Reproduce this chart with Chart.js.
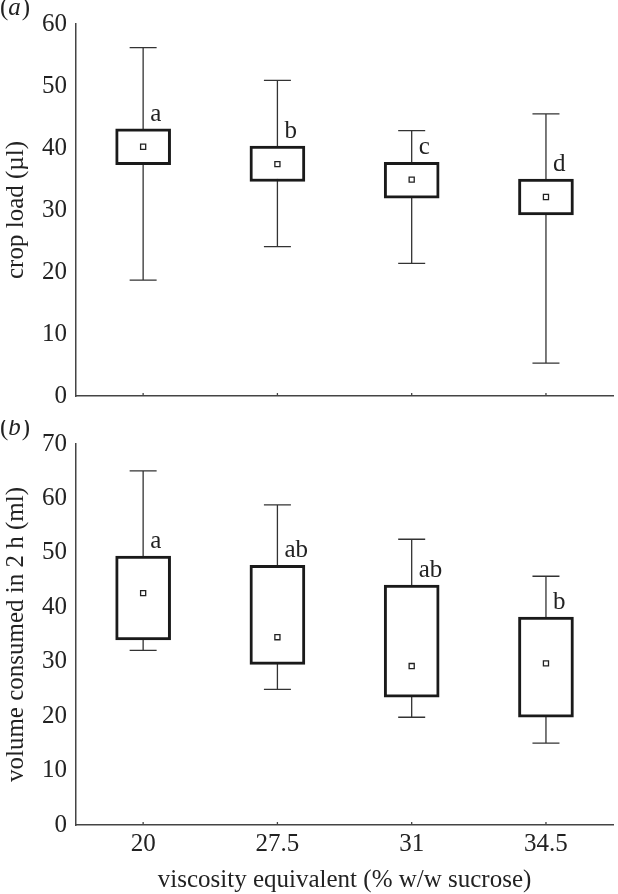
<!DOCTYPE html>
<html>
<head>
<meta charset="utf-8">
<script src="https://cdn.jsdelivr.net/npm/chart.js@4/dist/chart.umd.min.js"></script>
<style>
  html, body { margin: 0; padding: 0; background: #fff; }
  body { width: 618px; height: 894px; position: relative; overflow: hidden; }
  .panel { position: absolute; left: 0; width: 618px; }
  #pa { top: 0; height: 420px; }
  #pb { top: 420px; height: 474px; }
</style>
</head>
<body>
<div class="panel" id="pa"><canvas id="ca"></canvas></div>
<div class="panel" id="pb"><canvas id="cb"></canvas></div>
<script>
// ---- data ----
const categories = ['20', '27.5', '31', '34.5'];

// panel (a): crop load (µl)
const minA = [18.7, 24.1, 21.4, 5.3];
const q1A  = [37.3, 34.6, 31.9, 29.2];
const medA = [40.2, 37.4, 34.9, 32.1];
const q3A  = [43.1, 40.3, 37.7, 35.0];
const maxA = [56.2, 50.9, 42.8, 45.5];
const lettersA = ['a', 'b', 'c', 'd'];
const ticksA = [0, 10, 20, 30, 40, 50, 60];

// panel (b): volume consumed in 2 h (ml)
const minB = [32.1, 24.9, 19.8, 15.05];
const q1B  = [34.0, 29.5, 23.5, 19.8];
const medB = [42.6, 34.5, 29.2, 29.7];
const q3B  = [49.4, 47.7, 44.1, 38.2];
const maxB = [65.05, 58.8, 52.5, 45.7];
const lettersB = ['a', 'ab', 'ab', 'b'];
const ticksB = [0, 10, 20, 30, 40, 50, 60, 70];

const SERIF = '"Liberation Serif", "Times New Roman", serif';
const FS = 25;
Chart.defaults.font.family = SERIF;
Chart.defaults.color = '#222';

function boxPlugin(mins, maxs, q3s, letters, panelLetter) {
  return {
    id: 'box' + panelLetter,
    beforeDatasetsDraw(chart) {
      const ctx = chart.ctx, xs = chart.scales.x, ys = chart.scales.y;
      ctx.save();
      ctx.strokeStyle = '#333';
      ctx.lineWidth = 1.3;
      for (let i = 0; i < mins.length; i++) {
        const x = xs.getPixelForValue(i);
        const yTop = ys.getPixelForValue(maxs[i]);
        const yBot = ys.getPixelForValue(mins[i]);
        ctx.beginPath();
        ctx.moveTo(x, yTop); ctx.lineTo(x, yBot);
        ctx.moveTo(x - 13.5, yTop); ctx.lineTo(x + 13.5, yTop);
        ctx.moveTo(x - 13.5, yBot); ctx.lineTo(x + 13.5, yBot);
        ctx.stroke();
      }
      ctx.restore();
    },
    afterDatasetsDraw(chart) {
      const ctx = chart.ctx, xs = chart.scales.x, ys = chart.scales.y;
      ctx.save();
      ctx.fillStyle = '#222';
      ctx.font = FS + 'px ' + SERIF;
      ctx.textAlign = 'left';
      ctx.textBaseline = 'alphabetic';
      for (let i = 0; i < letters.length; i++) {
        const x = xs.getPixelForValue(i);
        const y = ys.getPixelForValue(q3s[i]);
        ctx.fillText(letters[i], x + 7, y - 8);
      }
      // inward tick marks on the x axis
      ctx.strokeStyle = '#444';
      ctx.lineWidth = 1.3;
      const b = chart.chartArea.bottom;
      for (let i = 0; i < letters.length; i++) {
        const x = xs.getPixelForValue(i);
        ctx.beginPath(); ctx.moveTo(x, b); ctx.lineTo(x, b - 3); ctx.stroke();
      }
      // panel label
      ctx.textBaseline = 'middle';
      let px = 0;
      const py = 8;
      ctx.font = FS + 'px ' + SERIF;
      ctx.fillText('(', px, py); px += ctx.measureText('(').width;
      ctx.font = 'italic ' + FS + 'px ' + SERIF;
      ctx.fillText(panelLetter, px, py); px += ctx.measureText(panelLetter).width;
      ctx.font = FS + 'px ' + SERIF;
      ctx.fillText(')', px + 1, py);
      ctx.restore();
    }
  };
}

function makeChart(id, opts) {
  const boxes = opts.q1.map((v, i) => [v, opts.q3[i]]);
  return new Chart(document.getElementById(id), {
    type: 'bar',
    data: {
      labels: categories,
      datasets: [
        {
          type: 'line',
          data: opts.med,
          showLine: false,
          pointStyle: 'rect',
          pointRadius: 3.6,
          pointHoverRadius: 3.6,
          pointBackgroundColor: '#fff',
          pointBorderColor: '#222',
          pointBorderWidth: 1.3,
          order: 0
        },
        {
          type: 'bar',
          data: boxes,
          backgroundColor: '#fff',
          borderColor: '#1a1a1a',
          borderWidth: 3,
          borderSkipped: false,
          barThickness: 55,
          order: 1
        }
      ]
    },
    options: {
      responsive: true,
      maintainAspectRatio: false,
      animation: false,
      events: [],
      layout: { padding: { top: opts.padTop, left: 0, right: 0, bottom: 0 } },
      plugins: { legend: { display: false }, tooltip: { enabled: false } },
      scales: {
        x: {
          type: 'category',
          offset: true,
          grid: { display: false, drawTicks: false },
          border: { display: true, color: '#444', width: 1.5 },
          ticks: { display: opts.showX, font: { size: FS }, padding: 4, color: '#222' },
          title: {
            display: opts.showX,
            text: 'viscosity equivalent (% w/w sucrose)',
            font: { size: FS, lineHeight: 1.05 },
            padding: { top: 0, bottom: 0 },
            color: '#222'
          },
          afterFit(s) { s.height = opts.xHeight; }
        },
        y: {
          type: 'linear',
          min: 0,
          max: opts.ticks[opts.ticks.length - 1],
          afterBuildTicks(s) { s.ticks = opts.ticks.map(v => ({ value: v })); },
          grid: { display: false, drawTicks: false },
          border: { display: true, color: '#444', width: 1.5 },
          ticks: { font: { size: FS }, padding: 9, color: '#222' },
          title: {
            display: true,
            text: opts.yTitle,
            font: { size: FS },
            padding: { top: 1, bottom: 0 },
            color: '#222'
          },
          afterFit(s) { s.width = 76; }
        }
      }
    },
    plugins: [boxPlugin(opts.min, opts.max, opts.q3, opts.letters, opts.panel)]
  });
}

makeChart('ca', {
  q1: q1A, q3: q3A, med: medA, min: minA, max: maxA, letters: lettersA,
  ticks: ticksA, yTitle: 'crop load (µl)', panel: 'a',
  padTop: 14, xHeight: 24, showX: false
});
makeChart('cb', {
  q1: q1B, q3: q3B, med: medB, min: minB, max: maxB, letters: lettersB,
  ticks: ticksB, yTitle: 'volume consumed in 2 h (ml)', panel: 'b',
  padTop: 23, xHeight: 69, showX: true
});
</script>
</body>
</html>
